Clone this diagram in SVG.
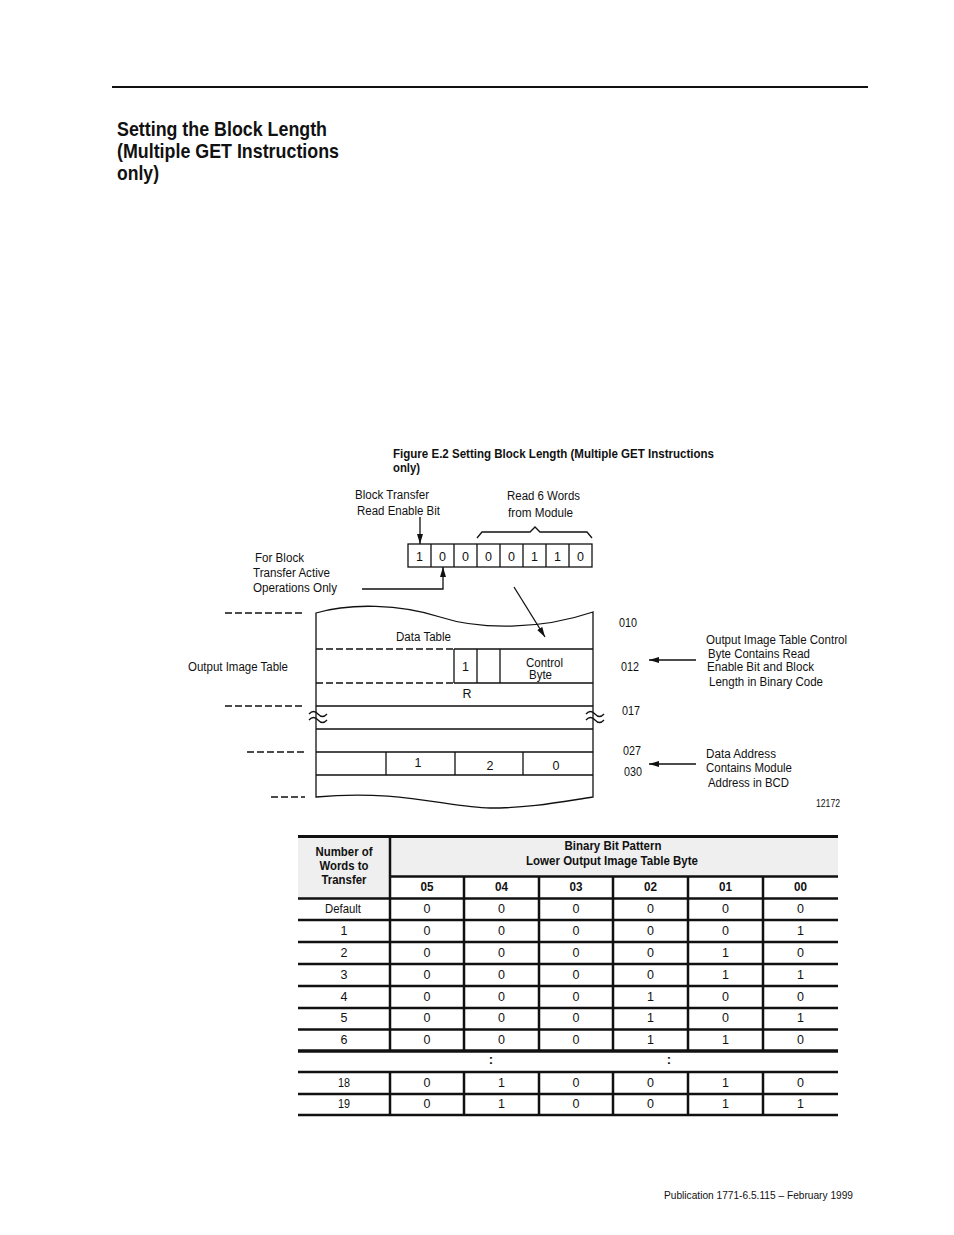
<svg xmlns="http://www.w3.org/2000/svg" width="954" height="1235" viewBox="0 0 954 1235">
<style>
text{font-family:"Liberation Sans",Arial,sans-serif;fill:#111}
.t{font-size:12.5px}
.s{font-size:10.5px}
.b{font-weight:bold}
.m{text-anchor:middle}
.ln{stroke:#111;stroke-width:1.3;fill:none}
.dl{stroke:#111;stroke-width:1.3;fill:none;stroke-dasharray:7 3}
.tb{stroke:#111;stroke-width:2.5;fill:none}
.td{font-size:12.5px;text-anchor:middle}
</style>
<defs>
<marker id="ah" viewBox="0 0 10 6" refX="10" refY="3" markerWidth="10" markerHeight="6" markerUnits="userSpaceOnUse" orient="auto"><path d="M0,0 L10,3 L0,6 z" fill="#111"/></marker>
</defs>
<rect width="954" height="1235" fill="#fff"/>
<line x1="112" y1="87" x2="868" y2="87" stroke="#111" stroke-width="2"/>
<g id="title">
<text x="117" y="136" class="b" style="font-size:21px" textLength="210" lengthAdjust="spacingAndGlyphs">Setting the Block Length</text>
<text x="117" y="158" class="b" style="font-size:21px" textLength="222" lengthAdjust="spacingAndGlyphs">(Multiple GET Instructions</text>
<text x="117" y="180" class="b" style="font-size:21px" textLength="42" lengthAdjust="spacingAndGlyphs">only)</text>
</g>
<g id="caption">
<text x="393" y="458" class="b" style="font-size:12.5px" textLength="321" lengthAdjust="spacingAndGlyphs">Figure E.2 Setting Block Length (Multiple GET Instructions</text>
<text x="393" y="472" class="b" style="font-size:12.5px" textLength="27" lengthAdjust="spacingAndGlyphs">only)</text>
</g>
<g id="bit-register">
<rect x="408" y="544" width="184" height="23" class="ln"/>
<path d="M431,544V567M454,544V567M477,544V567M500,544V567M523,544V567M546,544V567M569,544V567" class="ln"/>
<text x="419.5" y="561" class="td">1</text>
<text x="442.5" y="561" class="td">0</text>
<text x="465.5" y="561" class="td">0</text>
<text x="488.5" y="561" class="td">0</text>
<text x="511.5" y="561" class="td">0</text>
<text x="534.5" y="561" class="td">1</text>
<text x="557.5" y="561" class="td">1</text>
<text x="580.5" y="561" class="td">0</text>
</g>
<g id="label-bt">
<text x="355" y="499" class="t" textLength="74" lengthAdjust="spacingAndGlyphs">Block Transfer</text>
<text x="357" y="515" class="t" textLength="83" lengthAdjust="spacingAndGlyphs">Read Enable Bit</text>
</g>
<g id="label-read6">
<text x="507" y="500" class="t" textLength="73" lengthAdjust="spacingAndGlyphs">Read 6 Words</text>
<text x="508" y="517" class="t" textLength="65" lengthAdjust="spacingAndGlyphs">from Module</text>
<path d="M477,538 L482,532 L530,532 L535,527 L540,532 L587,532 L592,538" class="ln"/>
</g>
<g id="label-active">
<text x="255" y="562" class="t" textLength="49" lengthAdjust="spacingAndGlyphs">For Block</text>
<text x="253" y="577" class="t" textLength="77" lengthAdjust="spacingAndGlyphs">Transfer Active</text>
<text x="253" y="592" class="t" textLength="84" lengthAdjust="spacingAndGlyphs">Operations Only</text>
</g>
<g id="output-image-table">
<path d="M316,797 V613 C350,603 400,604 440,617 C480,630 540,630 593,612 V797 C560,802 530,808 490,808 C450,808 400,789 316,797 Z" class="ln"/>
<path d="M316,649 H454 M316,683 H454" class="dl"/>
<path d="M454,649 H593 M454,683 H593 M454,649 V683 M477,649 V683 M500,649 V683" class="ln"/>
<path d="M316,706 H593 M316,729 H593 M316,752 H593 M316,775 H593" class="ln"/>
<path d="M386,752 V775 M455,752 V775 M523,752 V775" class="ln"/>
<path d="M309,714 q4.5,-5 9,0 t9,0 M309,720 q4.5,-5 9,0 t9,0" class="ln"/>
<path d="M586,714 q4.5,-5 9,0 t9,0 M586,720 q4.5,-5 9,0 t9,0" class="ln"/>
<text x="396" y="641" class="t" textLength="55" lengthAdjust="spacingAndGlyphs">Data Table</text>
<text x="465.5" y="671" class="td">1</text>
<text x="526" y="667" class="t" style="font-size:12px" textLength="37" lengthAdjust="spacingAndGlyphs">Control</text>
<text x="529" y="679" class="t" style="font-size:12px" textLength="23" lengthAdjust="spacingAndGlyphs">Byte</text>
<text x="467" y="698" class="td">R</text>
<text x="418" y="767" class="td">1</text>
<text x="490" y="770" class="td">2</text>
<text x="556" y="770" class="td">0</text>
</g>
<g id="left-labels">
<path d="M225,613 H305 M225,706 H305 M247,752 H305 M271,797 H305" class="dl"/>
<text x="188" y="671" class="t" textLength="100" lengthAdjust="spacingAndGlyphs">Output Image Table</text>
</g>
<g id="addresses">
<text x="619" y="627" class="t" textLength="18" lengthAdjust="spacingAndGlyphs">010</text>
<text x="621" y="671" class="t" textLength="18" lengthAdjust="spacingAndGlyphs">012</text>
<text x="622" y="715" class="t" textLength="18" lengthAdjust="spacingAndGlyphs">017</text>
<text x="623" y="755" class="t" textLength="18" lengthAdjust="spacingAndGlyphs">027</text>
<text x="624" y="776" class="t" textLength="18" lengthAdjust="spacingAndGlyphs">030</text>
</g>
<g id="label-control">
<text x="706" y="644" class="t" textLength="141" lengthAdjust="spacingAndGlyphs">Output Image Table Control</text>
<text x="708" y="658" class="t" textLength="102" lengthAdjust="spacingAndGlyphs">Byte Contains Read</text>
<text x="707" y="671" class="t" textLength="107" lengthAdjust="spacingAndGlyphs">Enable Bit and Block</text>
<text x="709" y="686" class="t" textLength="114" lengthAdjust="spacingAndGlyphs">Length in Binary Code</text>
</g>
<g id="label-data">
<text x="706" y="758" class="t" textLength="70" lengthAdjust="spacingAndGlyphs">Data Address</text>
<text x="706" y="772" class="t" textLength="86" lengthAdjust="spacingAndGlyphs">Contains Module</text>
<text x="708" y="787" class="t" textLength="81" lengthAdjust="spacingAndGlyphs">Address in BCD</text>
<text x="816" y="807" class="s" textLength="24" lengthAdjust="spacingAndGlyphs">12172</text>
</g>
<g id="connectors">
<line x1="420" y1="517" x2="420" y2="544" class="ln" marker-end="url(#ah)"/>
<path d="M362,589 H443 V567" class="ln" marker-end="url(#ah)"/>
<line x1="514" y1="587" x2="545" y2="637" class="ln" marker-end="url(#ah)"/>
<line x1="696" y1="660" x2="649" y2="660" class="ln" marker-end="url(#ah)"/>
<line x1="696" y1="764" x2="649" y2="764" class="ln" marker-end="url(#ah)"/>
</g>
<g id="bit-table">
<rect x="298" y="836" width="540" height="40" fill="#efefef"/>
<rect x="298" y="876" width="92" height="22" fill="#efefef"/>
<path d="M298,836.5 H838" stroke="#111" stroke-width="3"/>
<path d="M390,876.5 H838 M298,898.5 H838 M298,920 H838 M298,942 H838 M298,964 H838 M298,986 H838 M298,1008 H838 M298,1029.5 H838 M298,1072 H838 M298,1094 H838 M298,1115 H838" class="tb"/>
<path d="M298,1051 H838" stroke="#111" stroke-width="3.5"/>
<path d="M390,836 V1051 M390,1072 V1115 M464,876 V1051 M464,1072 V1115 M539,876 V1051 M539,1072 V1115 M613,876 V1051 M613,1072 V1115 M688,876 V1051 M688,1072 V1115 M763,876 V1051 M763,1072 V1115" class="tb"/>
<g class="b" style="font-size:12.5px">
<text x="344" y="856" class="m" textLength="57" lengthAdjust="spacingAndGlyphs">Number of</text>
<text x="344" y="870" class="m" textLength="49" lengthAdjust="spacingAndGlyphs">Words to</text>
<text x="344" y="884" class="m" textLength="45" lengthAdjust="spacingAndGlyphs">Transfer</text>
<text x="613" y="850" class="m" textLength="97" lengthAdjust="spacingAndGlyphs">Binary Bit Pattern</text>
<text x="612" y="865" class="m" textLength="172" lengthAdjust="spacingAndGlyphs">Lower Output Image Table Byte</text>
<text x="427" y="891" class="m" textLength="13" lengthAdjust="spacingAndGlyphs">05</text>
<text x="501.5" y="891" class="m" textLength="13" lengthAdjust="spacingAndGlyphs">04</text>
<text x="576" y="891" class="m" textLength="13" lengthAdjust="spacingAndGlyphs">03</text>
<text x="650.5" y="891" class="m" textLength="13" lengthAdjust="spacingAndGlyphs">02</text>
<text x="725.5" y="891" class="m" textLength="13" lengthAdjust="spacingAndGlyphs">01</text>
<text x="800.5" y="891" class="m" textLength="13" lengthAdjust="spacingAndGlyphs">00</text>
</g>
<g class="td">
<text x="343" y="913" textLength="36" lengthAdjust="spacingAndGlyphs">Default</text><text x="427" y="913">0</text><text x="501.5" y="913">0</text><text x="576" y="913">0</text><text x="650.5" y="913">0</text><text x="725.5" y="913">0</text><text x="800.5" y="913">0</text>
<text x="344" y="935">1</text><text x="427" y="935">0</text><text x="501.5" y="935">0</text><text x="576" y="935">0</text><text x="650.5" y="935">0</text><text x="725.5" y="935">0</text><text x="800.5" y="935">1</text>
<text x="344" y="957">2</text><text x="427" y="957">0</text><text x="501.5" y="957">0</text><text x="576" y="957">0</text><text x="650.5" y="957">0</text><text x="725.5" y="957">1</text><text x="800.5" y="957">0</text>
<text x="344" y="979">3</text><text x="427" y="979">0</text><text x="501.5" y="979">0</text><text x="576" y="979">0</text><text x="650.5" y="979">0</text><text x="725.5" y="979">1</text><text x="800.5" y="979">1</text>
<text x="344" y="1001">4</text><text x="427" y="1001">0</text><text x="501.5" y="1001">0</text><text x="576" y="1001">0</text><text x="650.5" y="1001">1</text><text x="725.5" y="1001">0</text><text x="800.5" y="1001">0</text>
<text x="344" y="1022">5</text><text x="427" y="1022">0</text><text x="501.5" y="1022">0</text><text x="576" y="1022">0</text><text x="650.5" y="1022">1</text><text x="725.5" y="1022">0</text><text x="800.5" y="1022">1</text>
<text x="344" y="1044">6</text><text x="427" y="1044">0</text><text x="501.5" y="1044">0</text><text x="576" y="1044">0</text><text x="650.5" y="1044">1</text><text x="725.5" y="1044">1</text><text x="800.5" y="1044">0</text>
<text x="344" y="1087" textLength="12" lengthAdjust="spacingAndGlyphs">18</text><text x="427" y="1087">0</text><text x="501.5" y="1087">1</text><text x="576" y="1087">0</text><text x="650.5" y="1087">0</text><text x="725.5" y="1087">1</text><text x="800.5" y="1087">0</text>
<text x="344" y="1108" textLength="12" lengthAdjust="spacingAndGlyphs">19</text><text x="427" y="1108">0</text><text x="501.5" y="1108">1</text><text x="576" y="1108">0</text><text x="650.5" y="1108">0</text><text x="725.5" y="1108">1</text><text x="800.5" y="1108">1</text>
</g>
<text x="491" y="1064" class="b m" style="font-size:13px">:</text>
<text x="669" y="1064" class="b m" style="font-size:13px">:</text>
</g>
<g id="footer">
<text x="664" y="1199" style="font-size:11.5px" textLength="189" lengthAdjust="spacingAndGlyphs">Publication 1771-6.5.115 – February 1999</text>
</g>
</svg>
